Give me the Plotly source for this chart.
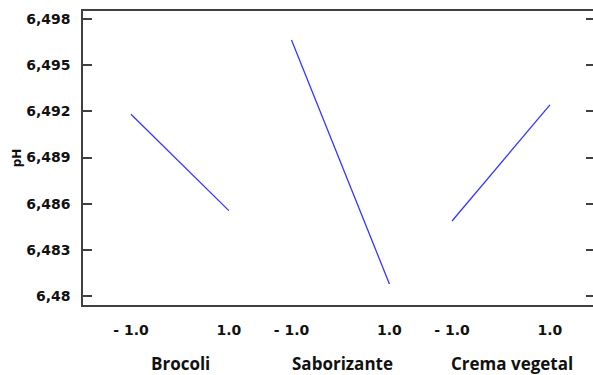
import plotly.graph_objects as go

# Main effects of each factor on pH (coded levels -1 / +1)
factors = ["Brocoli", "Saborizante", "Crema vegetal"]
levels = [-1.0, 1.0]
level_labels = ["- 1.0", "1.0"]
ph_means = {
    "Brocoli": [6.49181, 6.48555],
    "Saborizante": [6.49664, 6.48079],
    "Crema vegetal": [6.48488, 6.49242],
}
y_ticks = [6.480, 6.483, 6.486, 6.489, 6.492, 6.495, 6.498]
y_tick_labels = ["6,48", "6,483", "6,486", "6,489", "6,492", "6,495", "6,498"]

panel_step = 3.28  # horizontal spacing between factor panels, in coded units
name_shift = [1, 2, 11]  # pixel nudge of each factor name
line_color = "#3636ff"
frame_color = "#404040"
tick_font = dict(family="DejaVu Sans", size=14, color="#111111", weight="bold")

fig = go.Figure()
tickvals, ticktext, centers = [], [], []
for i, name in enumerate(factors):
    xs = [lv + i * panel_step for lv in levels]
    fig.add_trace(go.Scatter(
        x=xs, y=ph_means[name], mode="lines",
        line=dict(color=line_color, width=1.3),
        showlegend=False, hoverinfo="skip",
    ))
    tickvals += xs
    ticktext += level_labels
    centers.append(i * panel_step)

# empty trace carrying the right-hand tick axis
fig.add_trace(go.Scatter(x=[None], y=[None], yaxis="y2", showlegend=False))

for name, cx, dx in zip(factors, centers, name_shift):
    fig.add_annotation(
        x=cx, y=-0.2, xref="x", yref="paper", text=f"<b>{name}</b>",
        showarrow=False, yanchor="middle", xanchor="center", xshift=dx,
        font=dict(family="Open Sans", size=17, color="#111111"),
    )

y_range = [6.47942, 6.49852]
fig.update_layout(
    width=593, height=375,
    margin=dict(l=83, r=0, t=11, b=70),
    paper_bgcolor="white", plot_bgcolor="white",
    separators=",.",
    xaxis=dict(
        range=[-1.98, 2 * panel_step + 1 + 0.88],
        tickvals=tickvals, ticktext=ticktext,
        ticks="", showgrid=False, zeroline=False,
        showline=True, linecolor=frame_color, linewidth=1.5, mirror=True,
        tickfont=tick_font, ticklabelstandoff=11,
    ),
    yaxis=dict(
        range=y_range, tickvals=y_ticks, ticktext=y_tick_labels,
        ticks="inside", ticklen=9, tickcolor=frame_color, tickwidth=1.5,
        showgrid=False, zeroline=False,
        showline=True, linecolor=frame_color, linewidth=1.5,
        tickfont=tick_font, ticklabelstandoff=8,
        title=dict(text="<b>pH</b>", font=dict(family="DejaVu Sans", size=12, color="#111111"), standoff=2),
    ),
    yaxis2=dict(
        range=y_range, tickvals=y_ticks, overlaying="y", side="right",
        ticks="inside", ticklen=7, tickcolor=frame_color, tickwidth=1.5,
        showticklabels=False, showgrid=False, zeroline=False, showline=False,
    ),
)

fig.write_html("out.html")
